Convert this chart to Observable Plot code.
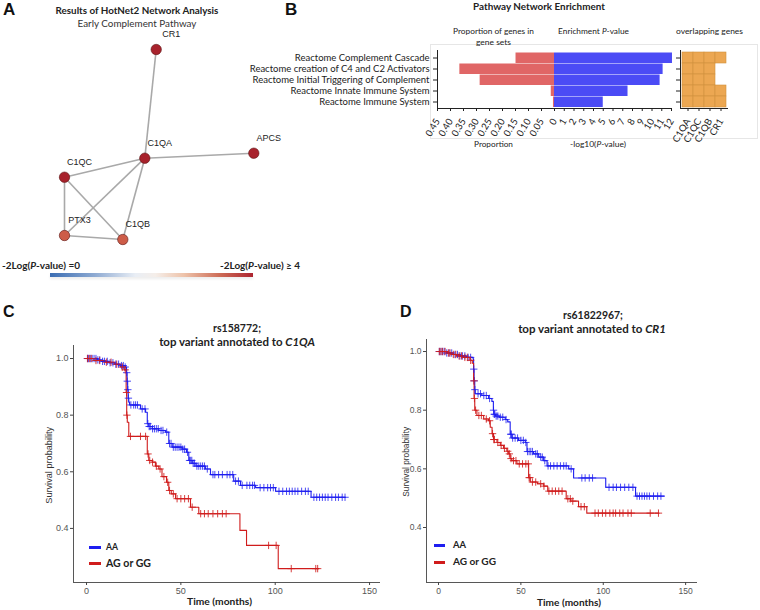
<!DOCTYPE html>
<html><head><meta charset="utf-8">
<script src="https://cdn.jsdelivr.net/npm/d3@7"></script>
<script src="https://cdn.jsdelivr.net/npm/@observablehq/plot@0.6"></script>
<style>
body{margin:0;background:#fff;}
#root{position:relative;width:760px;height:610px;overflow:hidden;background:#fff;}
.abs{position:absolute;}
.t{position:absolute;white-space:nowrap;line-height:1.15;}
svg{overflow:visible;}
</style></head><body><div id="root"></div>
<script>
// ---------- Panel A: network ----------
const nodeNames = ["CR1","C1QA","APCS","C1QC","PTX3","C1QB"];
const nodeX = [155.7,144.3,253.3,64,64,122.3];
const nodeY = [49,157.7,152.7,176.7,235,239];
const nodeHeat = [4,4,4,4,3.2,3.2];
const edgeFrom = ["CR1","C1QA","C1QA","C1QA","C1QA","C1QC","C1QC","PTX3"];
const edgeTo   = ["C1QA","APCS","C1QC","PTX3","C1QB","PTX3","C1QB","C1QB"];

// ---------- Panel B: enrichment ----------
const pathways = ["Reactome Complement Cascade","Reactome creation of C4 and C2 Activators","Reactome Initial Triggering of Complement","Reactome Innate Immune System","Reactome Immune System"];
const proportionValues = [0.148,0.364,0.286,0.0125,0.004];
const enrichLogP = [12.1,11.14,10.83,7.54,5.0];
const overlapGenes = ["C1QA","C1QC","C1QB","CR1"];
const overlapMatrix = [[1,1,1,1],[1,1,1,0],[1,1,1,0],[1,1,1,1],[1,1,1,1]];
const propTicks = [0.05,0.10,0.15,0.20,0.25,0.30,0.35,0.40,0.45];
const logPTicks = [0,1,2,3,4,5,6,7,8,9,10,11,12];

// ---------- Panels C, D: Kaplan-Meier ----------
const timeTicks = [0,50,100,150];
const survTicks = [0.4,0.6,0.8,1.0];

const cAA_time = [0,5.6,8,12,15,18,20.5,21.2,21.5,21.8,22.1,22.4,22.8,28.6,31.3,32.2,33,34.8,38.3,41.9,43.6,45.4,50.7,53,54.2,56,58,63,65.7,78,81.6,89.6,100.2,119,137];
const cAA_surv = [1,0.995,0.99,0.985,0.98,0.975,0.97,0.95,0.92,0.89,0.86,0.846,0.836,0.822,0.81,0.77,0.76,0.752,0.746,0.74,0.70,0.687,0.68,0.669,0.64,0.63,0.62,0.61,0.59,0.567,0.552,0.544,0.531,0.51,0.51];
const cAA_censor = [0.5,1,2,3,4,5,6,7,8.5,9.5,11,12.5,14,15.5,17,18.5,19.5,20.5,21.3,21.6,21.9,22.2,23.5,25,26,27,29.5,31,32.5,33.2,33.8,35,36,37,38,39.5,40.5,42.5,44,44.8,46,47,48,49,50,51,52,53.5,54.6,55.2,55.8,56.5,57.2,58.5,59.5,60.5,61.5,62.5,64,67,68,70,72,74.5,76,77.5,79,80.5,82.5,85,86.5,88,89,92,94,96,97.5,99,102,104,106,107.5,109,110.5,112,114,116,117.5,120.5,122,123.5,125,126.5,128,130,132,133.5,135.5,137];
const cAG_time = [0,3.9,10,15,18,20,21,21.3,21.6,22.4,32.2,33,34.8,36.5,38.3,40,42.4,43.6,44.9,47.2,55.1,59.5,81.3,84.8,101.6,123];
const cAG_surv = [1,0.993,0.987,0.98,0.97,0.96,0.88,0.80,0.775,0.725,0.663,0.64,0.634,0.62,0.61,0.583,0.563,0.534,0.522,0.505,0.475,0.452,0.393,0.34,0.258,0.258];
const cAG_censor = [0.5,1.5,2.5,5,7,10.5,13,16,19,20.5,21.2,21.4,23.3,28.6,31.3,32.6,33.5,35,37,39,41,43,44,46,48,50,52,54,56,60.5,62.5,64.5,67,69.5,72,74,96.5,100.5,108.5,121.5,122.5];

const dAA_time = [0,5,9,13,17,21,21.3,21.6,22,22.3,26.3,30.4,32.4,33.3,33.6,34.5,36.9,40.5,42,43.5,44.6,48.6,52.7,53.7,57.7,60.8,63.8,65.9,79,82,101.5,119.6,137];
const dAA_surv = [1,0.995,0.99,0.985,0.98,0.975,0.94,0.90,0.87,0.856,0.85,0.84,0.83,0.80,0.786,0.78,0.776,0.768,0.76,0.718,0.705,0.697,0.69,0.659,0.651,0.64,0.628,0.61,0.60,0.569,0.537,0.507,0.507];
const dAA_censor = [0.5,1.5,2.5,3.5,5,6.5,8,10,11.5,13,14.5,16,18,19.5,21.4,21.7,22.1,24,25.5,27.5,29,31,33.4,33.8,34.2,35,36,37.5,39,41,43.8,44.2,45,46.5,48,50,51.5,53,54,55,56,57,59,60,62,63,64.5,66.5,68,70,72,74,76,77.5,80.5,87,89,91.5,93.5,103.5,106,108,110.5,113,115.5,118,120.5,122,123.5,125,126.5,128,130.5,133,135];
const dAG_time = [0,5.5,8,11,15,19,20.5,21.3,21.6,22,23.3,27.4,30.4,31.4,32.5,33.4,35.5,37.5,39.5,41.5,42.6,43.5,44.5,47.6,54.7,55.7,60,63.9,66.3,77.5,80.3,85,90,133.8];
const dAG_surv = [1,0.995,0.99,0.985,0.98,0.97,0.96,0.90,0.84,0.80,0.782,0.77,0.764,0.742,0.72,0.70,0.69,0.68,0.67,0.66,0.651,0.635,0.628,0.617,0.57,0.555,0.549,0.541,0.524,0.498,0.49,0.471,0.449,0.449];
const dAG_censor = [0.5,1.5,2.5,4,6,7,9,10.5,12.5,14,16,17.5,19.5,21.5,21.8,22.5,24.5,26,29,31,32.8,33.5,34,36,38,40,42,43,44,45.5,47,49,51,53,54.5,55,55.5,57,59,62,64,67,69,71,73,75,78.5,80,81.5,86.5,88.5,95,97,99.5,101.5,104,106,107.5,110,112,115,117,128.5,133.5];

// ---------- helpers ----------
const root = document.getElementById("root");
function place(node, left, top) {
  const d = document.createElement("div");
  d.className = "abs"; d.style.left = left + "px"; d.style.top = top + "px";
  d.appendChild(node); root.appendChild(d); return d;
}
function txt(html, x, y, o = {}) {
  const el = document.createElement("div");
  el.className = "t";
  el.innerHTML = html;
  const size = o.size || 10;
  el.style.fontSize = size + "px";
  el.style.fontWeight = o.weight || "normal";
  el.style.fontFamily = o.family || "Lato, 'Open Sans', sans-serif";
  el.style.color = o.color || "#222";
  root.appendChild(el);
  if (o.width) {
    const w = el.getBoundingClientRect().width;
    el.style.fontSize = (size * o.width / w) + "px";
  }
  const r = el.getBoundingClientRect();
  const ax = o.anchor === "start" ? 0 : o.anchor === "end" ? 1 : 0.5;
  el.style.left = (x - ax * r.width) + "px";
  el.style.top = (y - r.height / 2) + "px";
  if (o.rotate) el.style.transform = `rotate(${o.rotate}deg)`;
  return el;
}

// ---------- Panel A ----------
const nodeData = nodeNames.map((n, i) => ({name: n, x: nodeX[i], y: nodeY[i], heat: nodeHeat[i]}));
const byName = Object.fromEntries(nodeData.map(d => [d.name, d]));
const edgeData = edgeFrom.map((f, i) => ({a: byName[f], b: byName[edgeTo[i]]}));
const heatColor = {type: "linear", domain: [0, 2, 3, 4], range: ["#3b6db3", "#f3f1ef", "#d66a4f", "#a8222c"], interpolate: "rgb"};

place(Plot.plot({
  width: 300, height: 290, margin: 0,
  x: {domain: [0, 300], axis: null},
  y: {domain: [0, 290], range: [0, 290], axis: null},
  color: heatColor,
  style: {background: "transparent", overflow: "visible"},
  marks: [
    Plot.link(edgeData, {x1: d => d.a.x, y1: d => d.a.y, x2: d => d.b.x, y2: d => d.b.y, stroke: "#a9a9a9", strokeWidth: 1.6}),
    Plot.dot(nodeData, {x: "x", y: "y", r: 5.2, fill: "heat", stroke: "#5a1515", strokeWidth: 0.6}),
    Plot.text(nodeData, {x: "x", y: "y", text: "name", dx: 15, dy: -15, fontSize: 9, fill: "#222", fontFamily: "Liberation Sans, Arial, sans-serif"})
  ]
}), 0, 0);

txt("A", 3, 10, {size: 17, weight: "bold", family: "Liberation Sans, Arial", anchor: "start", color: "#111"});
txt("Results of HotNet2 Network Analysis", 137, 10.5, {size: 10, weight: "bold", width: 163});
txt("Early Complement Pathway", 137, 24, {size: 10, width: 119, color: "#333"});
txt("-2Log(<i>P</i>-value) =0", 2, 265.5, {size: 10, weight: "bold", width: 78, anchor: "start"});
txt("-2Log(<i>P</i>-value) ≥ 4", 300, 265.5, {size: 10, weight: "bold", width: 80, anchor: "end"});
const grad = document.createElement("div");
grad.className = "abs";
Object.assign(grad.style, {left: "50px", top: "273px", width: "203px", height: "4px",
  background: "linear-gradient(to right, #3b6db3 0%, #8eaad2 22%, #e9eef5 42%, #f5eee9 52%, #eec3aa 66%, #cc6a55 84%, #ac2430 100%)",
  boxShadow: "0 2px 3px rgba(0,0,0,0.08)"});
root.appendChild(grad);

// ---------- Panel B ----------
txt("B", 285, 10, {size: 17, weight: "bold", family: "Liberation Sans, Arial", anchor: "start", color: "#111"});
txt("Pathway Network Enrichment", 539, 6.5, {size: 10, weight: "bold", width: 132});
const frame = document.createElement("div");
frame.className = "abs";
Object.assign(frame.style, {left: "430px", top: "44px", width: "326px", height: "93px", border: "1px solid #e6e6e6"});
root.appendChild(frame);

const propData = pathways.map((p, i) => ({pathway: p, value: proportionValues[i]}));
const pData = pathways.map((p, i) => ({pathway: p, value: enrichLogP[i]}));
const cellData = pathways.flatMap((p, i) => overlapGenes.map((g, j) => ({pathway: p, gene: g, on: overlapMatrix[i][j]}))).filter(d => d.on);
const bStyle = {fontFamily: "Lato, 'Open Sans', sans-serif", fontSize: "9.5px", color: "#222", overflow: "visible", background: "transparent"};

place(Plot.plot({
  width: 306, height: 100, marginLeft: 187, marginRight: 2, marginTop: 10, marginBottom: 32,
  x: {domain: [0, 0.45], reverse: true, ticks: propTicks, tickFormat: ".2f", tickRotate: -60, tickSize: 3, line: true, label: null},
  y: {type: "band", domain: pathways, padding: 0, tickSize: 4, tickPadding: 4, line: true, label: null},
  style: bStyle,
  marks: [Plot.barX(propData, {x: "value", y: "pathway", fill: "#e06666", insetTop: 0.5, insetBottom: 0})]
}), 250, 40);

place(Plot.plot({
  width: 122, height: 100, marginLeft: 0, marginRight: 5, marginTop: 10, marginBottom: 32,
  x: {domain: [0, 12], ticks: logPTicks, tickRotate: -60, tickSize: 3, line: true, label: null},
  y: {type: "band", domain: pathways, padding: 0, axis: null},
  style: bStyle,
  marks: [Plot.barX(pData, {x: "value", y: "pathway", fill: "#4b4bf5", insetTop: 0.5, insetBottom: 0})]
}), 554, 40);

place(Plot.plot({
  width: 100, height: 100, marginLeft: 20, marginRight: 33, marginTop: 10, marginBottom: 32,
  x: {type: "band", domain: overlapGenes, padding: 0, tickRotate: -60, tickSize: 3, line: true, label: null},
  y: {type: "band", domain: pathways, padding: 0, tickSize: 4, tickFormat: () => "", line: true, label: null},
  style: bStyle,
  marks: [Plot.cell(cellData, {x: "gene", y: "pathway", fill: "#eca752", stroke: "#cf913f", strokeWidth: 0.6, inset: 0})]
}), 660, 40);

txt("Proportion of genes in", 493.5, 32, {size: 9.5, width: 81});
txt("gene sets", 493.5, 43.3, {size: 9.5, width: 35});
txt("Enrichment <i>P</i>-value", 593.5, 32, {size: 9.5, width: 71});
txt("overlapping genes", 709.5, 32, {size: 9.5, width: 67});
txt("Proportion", 493.5, 145, {size: 9.5, width: 39});
txt("-log10(<i>P</i>-value)", 598, 145, {size: 9.5, width: 56});

// ---------- Panels C, D ----------
function stepData(times, surv) { return times.map((t, i) => ({t, s: surv[i]})); }
function censorData(ct, times, surv) {
  return ct.map(t => { let v = surv[0]; for (let i = 0; i < times.length; i++) if (times[i] <= t) v = surv[i]; return {t, s: v}; });
}
const blue = "#1e1ef0", red = "#d01c1c";
function kmPlot(c) {
  const [x0, x1] = c.xd, [y0, y1] = c.yd;
  return Plot.plot({
    width: c.w, height: c.h, marginLeft: c.ml, marginRight: 0, marginTop: c.mt, marginBottom: c.mb,
    x: {domain: c.xd}, y: {domain: c.yd},
    style: {fontFamily: "Liberation Sans, Arial, sans-serif", fontSize: c.fs + "px", overflow: "visible", background: "transparent"},
    marks: [
      Plot.ruleX([x0], {stroke: "#444", strokeWidth: 0.9}),
      Plot.ruleY([y0], {stroke: "#444", strokeWidth: 0.9}),
      Plot.axisX(timeTicks, {tickSize: 3, stroke: "#444", fill: "#555", label: null, tickPadding: 2}),
      Plot.axisY(survTicks, {tickSize: 3, stroke: "#444", fill: "#555", label: null, tickFormat: ".1f", tickPadding: 2}),
      Plot.line(stepData(c.aaT, c.aaS), {x: "t", y: "s", curve: "step-after", stroke: blue, strokeWidth: 1.1}),
      Plot.line(stepData(c.agT, c.agS), {x: "t", y: "s", curve: "step-after", stroke: red, strokeWidth: 1.1}),
      Plot.dot(censorData(c.aaC, c.aaT, c.aaS), {x: "t", y: "s", symbol: "plus", r: 2.5, stroke: blue, strokeWidth: 1, strokeOpacity: 0.8}),
      Plot.dot(censorData(c.agC, c.agT, c.agS), {x: "t", y: "s", symbol: "plus", r: 2.5, stroke: red, strokeWidth: 1, strokeOpacity: 0.85})
    ]
  });
}

place(kmPlot({w: 350, h: 270, ml: 43, mt: 5, mb: 28, fs: 9, xd: [-6.9, 155.8], yd: [0.209, 1.046],
  aaT: cAA_time, aaS: cAA_surv, aaC: cAA_censor, agT: cAG_time, agS: cAG_surv, agC: cAG_censor}), 30, 340);
place(kmPlot({w: 307, h: 280, ml: 36, mt: 9, mb: 28, fs: 8.5, xd: [-7.29, 157.2], yd: [0.2125, 1.041],
  aaT: dAA_time, aaS: dAA_surv, aaC: dAA_censor, agT: dAG_time, agS: dAG_surv, agC: dAG_censor}), 390, 330);

txt("C", 3, 312, {size: 16, weight: "bold", family: "Liberation Sans, Arial", anchor: "start", color: "#111"});
txt("D", 400, 312, {size: 16, weight: "bold", family: "Liberation Sans, Arial", anchor: "start", color: "#111"});
txt("rs158772;", 237, 328, {size: 12, weight: "bold", width: 48});
txt("top variant annotated to <i>C1QA</i>", 237, 341.5, {size: 12, weight: "bold", width: 156});
txt("rs61822967;", 593, 315.5, {size: 12, weight: "bold", width: 60});
txt("top variant annotated to <i>CR1</i>", 592, 328.5, {size: 12, weight: "bold", width: 148});

txt("Survival probability", 49, 465, {size: 9, family: "Liberation Sans, Arial", width: 77, rotate: -90, color: "#333"});
txt("Survival probability", 407, 462, {size: 9, family: "Liberation Sans, Arial", width: 70, rotate: -90, color: "#333"});
txt("Time (months)", 219.5, 602, {size: 11, weight: "bold", width: 65});
txt("Time (months)", 569, 603, {size: 11, weight: "bold", width: 64});

function legendLine(x, y, w, color) {
  const d = document.createElement("div"); d.className = "abs";
  Object.assign(d.style, {left: x + "px", top: (y - 1.5) + "px", width: w + "px", height: "3px", background: color});
  root.appendChild(d);
}
legendLine(89, 547, 12, blue); legendLine(89, 563, 12, red);
txt("AA", 106, 547, {size: 11, weight: "bold", width: 12, anchor: "start"});
txt("AG or GG", 106, 563, {size: 11, weight: "bold", width: 45, anchor: "start"});
legendLine(434, 545, 11, blue); legendLine(434, 562, 11, red);
txt("AA", 453, 545, {size: 11, weight: "bold", width: 13, anchor: "start"});
txt("AG or GG", 453, 562, {size: 11, weight: "bold", width: 43, anchor: "start"});
</script></body></html>
